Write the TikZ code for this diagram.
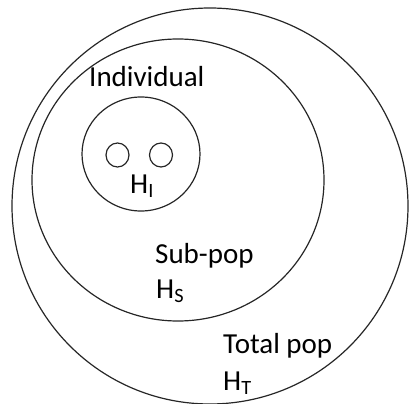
\documentclass[tikz,border=0pt]{standalone}
\usepackage{fontspec}
\setmainfont{Carlito}
\usepackage{tikz}

\tikzset{
  ring/.style={draw=black!85, line width=1.2pt},
  lbl/.style={anchor=base west, inner sep=0pt, font=\fontsize{29}{34}\selectfont}
}

\begin{document}
\begin{tikzpicture}[x=1pt, y=-1pt]
    \useasboundingbox (0,0) rectangle (410,404);
    \clip (0,0) rectangle (410,404);
    % Circles
    \draw[ring] (210,206) circle (198);
    \draw[ring] (178,180) ellipse (146 and 141);
    \draw[ring] (141,154) ellipse (59 and 57);
    \draw[ring] (117.5,155) ellipse (11.5 and 12);
    \draw[ring] (161,155) ellipse (11.5 and 12);

    % Labels
    \node[lbl] (indiv) at (89,87) {Individual};
    \node[lbl] (hi) at (130,193) {H\textsubscript{I}};
    \node[lbl] (subpop) at (155,263) {Sub-pop};
    \node[lbl] (hs) at (156,298) {H\textsubscript{S}};
    \node[lbl] (totpop) at (223,353) {Total pop};
    \node[lbl] (ht) at (223,390) {H\textsubscript{T}};
\end{tikzpicture}
\end{document}
